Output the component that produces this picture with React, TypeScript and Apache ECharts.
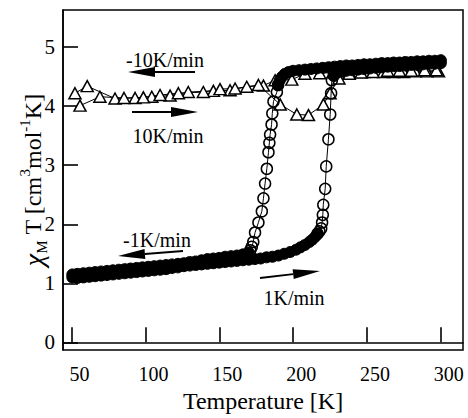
import React, { useEffect, useRef } from "react";
import * as echarts from "echarts";

const xTicks = [50, 100, 150, 200, 250, 300];
const yTicks = [0, 1, 2, 3, 4, 5];

// 10 K/min (triangles) – cooling run
const cool10T = [52.3, 60.6, 79.4, 93, 104.3, 116.7, 129, 146, 157.3, 168.6, 179.9, 187.8, 199.1, 208, 218, 228, 238, 248, 261.2, 268, 274.8, 282.7, 290.6, 298.4];
const cool10V = [4.22, 4.34, 4.13, 4.14, 4.16, 4.18, 4.24, 4.26, 4.27, 4.33, 4.35, 4.44, 4.45, 4.55, 4.56, 4.57, 4.57, 4.58, 4.58, 4.58, 4.58, 4.59, 4.59, 4.59];
// 10 K/min (triangles) – heating run
const heat10T = [55.7, 69.2, 85.5, 98.6, 109.9, 122.3, 139.2, 150.5, 160.7, 176.5, 191.2, 202.5, 210.4, 220.5, 225, 231, 238, 246, 254, 264, 272, 280, 289, 297];
const heat10V = [4.01, 4.16, 4.14, 4.15, 4.19, 4.22, 4.24, 4.29, 4.3, 4.36, 4.03, 3.86, 3.85, 4.03, 4.22, 4.47, 4.55, 4.57, 4.58, 4.6, 4.6, 4.6, 4.61, 4.61];

// 1 K/min (circles) – cooling run
const coolHighT = [300, 296, 292, 288, 284, 280, 276, 272, 268, 264, 260, 256, 252, 248, 244, 240, 236, 232, 228, 224, 220, 216, 212, 208, 204, 200, 197, 194.5, 192.5, 191, 189.8];
const coolHighV = [4.78, 4.77, 4.77, 4.76, 4.76, 4.75, 4.75, 4.74, 4.74, 4.73, 4.73, 4.72, 4.71, 4.71, 4.7, 4.69, 4.69, 4.68, 4.67, 4.66, 4.65, 4.64, 4.63, 4.62, 4.61, 4.6, 4.58, 4.55, 4.5, 4.44, 4.36];
const coolDropT = [189.8, 189.0, 186.7, 185.9, 185.4, 184.4, 183.9, 183.3, 182.2, 181.0, 179.9, 178.8, 176.5, 174.2, 173.0, 172.0, 171.0];
const coolDropV = [4.36, 4.24, 4.08, 3.88, 3.69, 3.52, 3.38, 3.22, 2.94, 2.69, 2.44, 2.22, 2.03, 1.86, 1.7, 1.62, 1.56];
const coolLowT = [170, 166, 162, 158, 154, 150, 146, 142, 138, 134, 130, 126, 122, 118, 114, 110, 106, 102, 98, 94, 90, 86, 82, 78, 74, 70, 66, 62, 58, 54, 50.5];
const coolLowV = [1.52, 1.49, 1.47, 1.46, 1.45, 1.43, 1.42, 1.41, 1.39, 1.37, 1.36, 1.34, 1.33, 1.32, 1.31, 1.3, 1.29, 1.28, 1.27, 1.26, 1.25, 1.24, 1.23, 1.22, 1.21, 1.2, 1.19, 1.18, 1.17, 1.16, 1.15];

// 1 K/min (circles) – heating run
const heatLowT = [50.5, 54, 58, 62, 66, 70, 74, 78, 82, 86, 90, 94, 98, 102, 106, 110, 114, 118, 122, 126, 130, 134, 138, 142, 146, 150, 154, 158, 162, 166, 170, 174, 178, 182, 186, 190, 194, 198, 202, 205, 208, 211, 213, 215, 216.5];
const heatLowV = [1.1, 1.09, 1.1, 1.11, 1.12, 1.13, 1.14, 1.15, 1.16, 1.17, 1.18, 1.19, 1.2, 1.21, 1.22, 1.23, 1.24, 1.26, 1.27, 1.29, 1.3, 1.31, 1.32, 1.33, 1.34, 1.35, 1.36, 1.37, 1.38, 1.39, 1.4, 1.41, 1.42, 1.44, 1.45, 1.47, 1.5, 1.53, 1.57, 1.61, 1.65, 1.7, 1.74, 1.79, 1.84];
const heatRiseT = [216.5, 217.8, 219.0, 219.6, 220.1, 220.4, 221.7, 222.4, 223.9, 225.1, 225.7, 226.2, 227.5];
const heatRiseV = [1.84, 1.88, 1.93, 2.03, 2.16, 2.33, 2.6, 2.98, 3.44, 3.86, 4.22, 4.44, 4.52];
const heatHighT = [227.5, 230, 233, 236, 240, 244, 248, 252, 256, 260, 264, 268, 272, 276, 280, 284, 288, 292, 296, 300];
const heatHighV = [4.52, 4.57, 4.59, 4.6, 4.61, 4.62, 4.63, 4.64, 4.65, 4.66, 4.67, 4.68, 4.68, 4.69, 4.7, 4.7, 4.71, 4.72, 4.72, 4.73];

const zip = (a: number[], b: number[]) => a.map((x, i) => [x, b[i]]);
const FONT = "Liberation Serif";

function arrow(x1: number, y1: number, x2: number, y2: number, headLen = 27, headW = 10) {
  const ang = Math.atan2(y2 - y1, x2 - x1);
  const bx = x2 - headLen * Math.cos(ang);
  const by = y2 - headLen * Math.sin(ang);
  const nx = (-Math.sin(ang) * headW) / 2;
  const ny = (Math.cos(ang) * headW) / 2;
  return [
    { type: "line", shape: { x1, y1, x2: bx, y2: by }, style: { stroke: "#000", lineWidth: 2 } },
    { type: "polygon", shape: { points: [[x2, y2], [bx + nx, by + ny], [bx - nx, by - ny]] }, style: { fill: "#000" } },
  ];
}

function label(text: string, x: number, y: number) {
  return {
    type: "text",
    x,
    y,
    style: {
      text,
      fontFamily: FONT,
      fontSize: 20,
      fill: "#000",
      textAlign: "center",
      textVerticalAlign: "middle",
      align: "center",
      verticalAlign: "middle",
    },
  };
}

export default function App() {
  const ref = useRef<HTMLDivElement>(null);
  useEffect(() => {
    const chart = echarts.init(ref.current!, null, { renderer: "svg" });
    const tri = (T: number[], V: number[]) => ({
      type: "line",
      data: zip(T, V),
      symbol: "triangle",
      symbolSize: [12, 11],
      showAllSymbol: true,
      silent: true,
      itemStyle: { color: "#fff", borderColor: "#000", borderWidth: 1.5 },
      lineStyle: { color: "#000", width: 1 },
      z: 2,
    });
    const dense = (T: number[], V: number[]) => ({
      type: "line",
      data: zip(T, V),
      symbol: "circle",
      symbolSize: 11,
      showAllSymbol: true,
      silent: true,
      itemStyle: { color: "#000", borderColor: "#000", borderWidth: 1 },
      lineStyle: { color: "#000", width: 1 },
      z: 3,
    });
    const open = (T: number[], V: number[]) => ({
      type: "line",
      data: zip(T, V),
      symbol: "circle",
      symbolSize: 11,
      showAllSymbol: true,
      silent: true,
      itemStyle: { color: "rgba(255,255,255,0)", borderColor: "#000", borderWidth: 1.5 },
      lineStyle: { color: "#000", width: 1 },
      z: 4,
    });

    chart.setOption({
      animation: false,
      backgroundColor: "#fff",
      textStyle: { fontFamily: FONT },
      grid: { left: 63, right: 5, top: 10, bottom: 62, show: true, borderColor: "#000", borderWidth: 1.5, backgroundColor: "transparent" },
      xAxis: {
        type: "value",
        min: 44.2,
        max: 315,
        name: "Temperature [K]",
        nameLocation: "middle",
        nameGap: 41,
        nameMoveOverlap: false,
        nameTextStyle: { fontFamily: FONT, fontSize: 24, lineHeight: 20, color: "#000" },
        axisLine: { lineStyle: { color: "#000", width: 1.5 } },
        axisTick: { inside: true, length: 15, lineStyle: { color: "#000", width: 1.6 }, customValues: xTicks },
        axisLabel: { customValues: xTicks, fontFamily: FONT, fontSize: 20, lineHeight: 16, color: "#000", margin: 16, padding: [0, 0, 0, 16] },
        splitLine: { show: false },
      },
      yAxis: {
        type: "value",
        min: -0.13,
        max: 5.63,
        name: "{chi|χ}{sub|M}{t| T [cm}{sup|3}{t|mol}{sup|-1}{t|K]}",
        nameLocation: "middle",
        nameGap: 14,
        nameMoveOverlap: false,
        nameTextStyle: {
          fontFamily: FONT,
          fontSize: 24,
          color: "#000",
          rich: {
            chi: { fontFamily: FONT, fontSize: 28, fontStyle: "italic", color: "#000", verticalAlign: "middle", lineHeight: 32 },
            sub: { fontFamily: FONT, fontSize: 15, color: "#000", verticalAlign: "bottom", lineHeight: 15 },
            sup: { fontFamily: FONT, fontSize: 15, color: "#000", verticalAlign: "top", lineHeight: 15 },
            t: { fontFamily: FONT, fontSize: 24, color: "#000", verticalAlign: "middle", lineHeight: 32 },
          },
        },
        axisLine: { lineStyle: { color: "#000", width: 1.5 } },
        axisTick: { inside: true, length: 15, lineStyle: { color: "#000", width: 1.6 }, customValues: yTicks },
        axisLabel: { customValues: yTicks, fontFamily: FONT, fontSize: 21, color: "#000", margin: 8 },
        splitLine: { show: false },
      },
      series: [
        tri(cool10T, cool10V),
        tri(heat10T, heat10V),
        dense(coolHighT, coolHighV),
        dense(coolLowT, coolLowV),
        dense(heatLowT, heatLowV),
        dense(heatHighT, heatHighV),
        open(coolDropT, coolDropV),
        open(heatRiseT, heatRiseV),
      ],
      graphic: [
        ...arrow(195, 72, 128, 72),
        ...arrow(132, 112, 198, 112),
        ...arrow(183, 251, 118, 256),
        ...arrow(260, 278, 320, 271),
        label("-10K/min", 165, 60),
        label("10K/min", 168, 136),
        label("-1K/min", 157, 240),
        label("1K/min", 294, 298),
      ],
    });
    return () => chart.dispose();
  }, []);
  return <div ref={ref} style={{ position: "fixed", left: 0, top: 0, width: 468, height: 418 }} />;
}
